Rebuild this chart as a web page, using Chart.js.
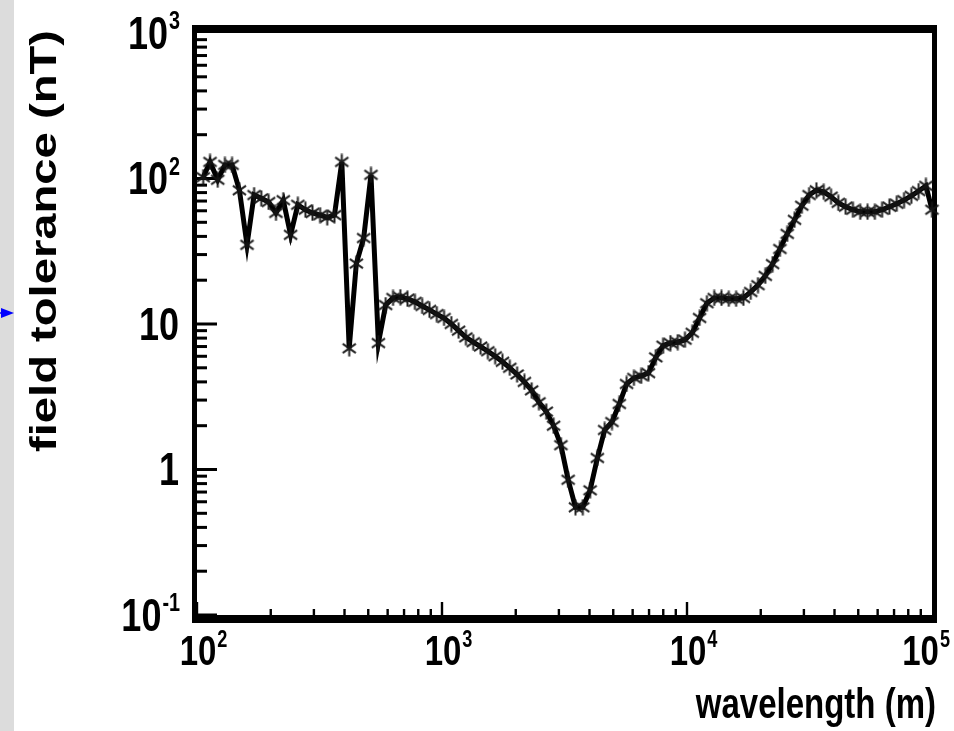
<!DOCTYPE html>
<html><head><meta charset="utf-8">
<script src="https://cdn.jsdelivr.net/npm/chart.js@4/dist/chart.umd.min.js"></script>
<style>html,body{margin:0;padding:0;background:#fff;overflow:hidden}</style>
</head><body>
<canvas id="c" width="954" height="731"></canvas>
<script>
// ---- data ----
const wavelengths = [106, 113, 121.5, 130, 139, 149, 160, 171, 183, 196, 210, 225, 241, 258, 277, 296, 318, 340, 364, 390,
  418, 447, 479, 513, 550, 589, 631, 676, 723, 775, 830, 889, 952, 1019, 1092, 1169, 1252, 1341, 1437, 1539,
  1648, 1765, 1891, 2025, 2169, 2323, 2488, 2665, 2854, 3057, 3273, 3506, 3755, 4022, 4307, 4613, 4941, 5292, 5668, 6070,
  6501, 6963, 7457, 7987, 8554, 9162, 9813, 10510, 11256, 12056, 12912, 13829, 14811, 15863, 16989, 18197, 19489, 20873, 22355, 23943,
  25645, 27466, 29416, 31505, 33742, 36141, 38707, 41455, 44400, 47554, 50933, 54549, 58423, 62573, 67017, 71779, 76877, 82338, 88186, 94451,
  100000];
const tolerance = [102, 130, 98, 124, 124, 83, 35, 77, 73, 69, 58, 71, 41, 66, 61, 58, 56, 54, 56, 130,
  6.8, 26, 39, 106, 7.4, 13.5, 15.1, 15.3, 14.9, 14.2, 13.3, 12.5, 11.7, 11.0, 10.0, 9.0, 8.1, 7.5, 7.0, 6.5,
  6.0, 5.5, 5.0, 4.5, 4.0, 3.5, 2.9, 2.5, 2.0, 1.47, 0.85, 0.55, 0.55, 0.72, 1.2, 1.87, 2.12, 2.82, 3.87, 4.26,
  4.4, 4.6, 5.9, 7.1, 7.4, 7.5, 7.8, 8.7, 11.0, 13.9, 15.1, 15.1, 14.9, 14.9, 15.1, 16.6, 18.5, 21.4, 25.8, 32.8,
  41.6, 52, 65, 77, 83, 81, 75, 68, 64, 61, 59, 59, 59, 61, 64, 67, 71, 76, 82, 89,
  61];
const xTickValues = [100, 1000, 10000, 100000];
const xTickBase = ['10', '10', '10', '10'];
const xTickExp = ['2', '3', '4', '5'];
const yTickValues = [0.1, 1, 10, 100, 1000];
const yTickBase = ['10', '1', '10', '10', '10'];
const yTickExp = ['-1', '', '', '2', '3'];
const xTitle = 'wavelength (m)';
const yTitle = 'field tolerance (nT)';

// ---- styling helpers ----
const FONT = '"Liberation Sans", Arial, Helvetica, sans-serif';
const SY = 1.3;

function makeAsterisk(size, color, lw) {
  const c = document.createElement('canvas');
  c.width = c.height = size;
  const g = c.getContext('2d');
  g.strokeStyle = color; g.lineWidth = lw; g.lineCap = 'butt';
  const cx = size / 2, r = size / 2 - 0.5;
  g.beginPath();
  for (const a of [90, 35, 145]) {
    const t = a * Math.PI / 180;
    g.moveTo(cx - r * Math.cos(t), cx - r * Math.sin(t));
    g.lineTo(cx + r * Math.cos(t), cx + r * Math.sin(t));
  }
  g.stroke();
  return c;
}
const star = makeAsterisk(17, 'rgba(20,20,20,0.95)', 2);

function drawPow(ctx, base, exp, x, y, mode, size, maxRight) {
  ctx.save();
  ctx.fillStyle = '#000';
  ctx.font = `bold ${size}px ${FONT}`;
  const bw = ctx.measureText(base).width;
  const es = size * 0.55;
  ctx.font = `bold ${es}px ${FONT}`;
  const ew = exp ? ctx.measureText(exp).width : 0;
  let x0;
  if (mode === 'center') x0 = x - bw / 2; else x0 = x - bw - ew - 1;
  if (maxRight !== undefined && x0 + bw + ew + 1 > maxRight) x0 = maxRight - bw - ew - 1;
  ctx.translate(0, y);
  ctx.scale(1, SY);
  ctx.textBaseline = 'middle';
  ctx.textAlign = 'left';
  ctx.font = `bold ${size}px ${FONT}`;
  ctx.fillText(base, x0, 0);
  if (exp) {
    ctx.font = `bold ${es}px ${FONT}`;
    ctx.textBaseline = 'alphabetic';
    ctx.fillText(exp, x0 + bw + 1, -size * 0.14);
  }
  ctx.restore();
}

const decor = {
  id: 'decor',
  beforeDraw(chart) {
    const ctx = chart.ctx;
    ctx.save();
    ctx.fillStyle = '#fff';
    ctx.fillRect(0, 0, chart.width, chart.height);
    ctx.fillStyle = '#dcdcdc';
    ctx.fillRect(0, 0, 14, chart.height);
    // blue arrow
    ctx.strokeStyle = '#0000ff'; ctx.lineWidth = 1.5;
    ctx.beginPath(); ctx.moveTo(0, 313); ctx.lineTo(6, 313); ctx.stroke();
    ctx.fillStyle = '#0000ff';
    ctx.beginPath(); ctx.moveTo(1, 308); ctx.lineTo(14, 313); ctx.lineTo(1, 318); ctx.closePath(); ctx.fill();
    ctx.restore();
  },
  beforeDatasetsDraw(chart) {
    const ctx = chart.ctx, a = chart.chartArea;
    const xs = chart.scales.x, ys = chart.scales.y;
    ctx.save();
    ctx.fillStyle = '#000';
    // frame
    ctx.fillRect(a.left - 5, a.top - 8, a.right - a.left + 10, 8);
    ctx.fillRect(a.left - 5, a.bottom, a.right - a.left + 10, 8);
    ctx.fillRect(a.left - 5, a.top - 8, 5, a.bottom - a.top + 16);
    ctx.fillRect(a.right, a.top - 8, 5, a.bottom - a.top + 16);
    // y ticks (inside, pointing right)
    for (let d = -1; d <= 2; d++) {
      for (let m = 1; m <= 9; m++) {
        const v = m * Math.pow(10, d);
        const py = ys.getPixelForValue(v);
        const len = m === 1 ? 20 : 10;
        ctx.fillRect(a.left, py - 1.5, len, 3);
      }
    }
    // x ticks (inside, pointing up)
    for (let d = 2; d <= 4; d++) {
      for (let m = 1; m <= 9; m++) {
        const v = m * Math.pow(10, d);
        const px = xs.getPixelForValue(v);
        const len = m === 1 ? 13 : 6;
        ctx.fillRect(px - 1.2, a.bottom - len, 2.4, len);
      }
    }
    ctx.restore();
  },
  afterDraw(chart) {
    const ctx = chart.ctx, a = chart.chartArea;
    const xs = chart.scales.x, ys = chart.scales.y;
    xTickValues.forEach((v, i) => {
      drawPow(ctx, xTickBase[i], xTickExp[i], xs.getPixelForValue(v) + 1, a.bottom + 38, 'center', 33, 950);
    });
    yTickValues.forEach((v, i) => {
      drawPow(ctx, yTickBase[i], yTickExp[i], 180, ys.getPixelForValue(v) + 3, 'right', 36);
    });
    // x title
    ctx.save();
    ctx.fillStyle = '#000';
    ctx.font = `bold 33px ${FONT}`;
    ctx.textAlign = 'right';
    ctx.textBaseline = 'alphabetic';
    ctx.translate(936, 718);
    ctx.scale(1, SY);
    ctx.fillText(xTitle, 0, 0);
    ctx.restore();
    // y title
    ctx.save();
    ctx.fillStyle = '#000';
    ctx.font = `bold 36px ${FONT}`;
    const w = ctx.measureText(yTitle).width;
    ctx.translate(56, 241);
    ctx.rotate(-Math.PI / 2);
    ctx.scale(422 / w, 1);
    ctx.textAlign = 'center';
    ctx.textBaseline = 'alphabetic';
    ctx.fillText(yTitle, 0, 0);
    ctx.restore();
  }
};

new Chart(document.getElementById('c'), {
  type: 'line',
  data: {
    datasets: [{
      data: wavelengths.map((w, i) => ({ x: w, y: tolerance[i] })),
      borderColor: '#000',
      borderWidth: 5,
      tension: 0,
      pointStyle: star,
      pointRadius: 8,
      pointHoverRadius: 8,
      clip: false,
      fill: false
    }]
  },
  options: {
    responsive: false,
    devicePixelRatio: 1,
    animation: false,
    events: [],
    layout: { padding: { left: 197, top: 33, right: 22, bottom: 116 } },
    plugins: { legend: { display: false }, tooltip: { enabled: false } },
    scales: {
      x: {
        type: 'logarithmic', min: 100, max: 100000,
        ticks: { display: false }, grid: { display: false }, border: { display: false },
        afterFit(s) { s.height = 0; }
      },
      y: {
        type: 'logarithmic', min: 0.1, max: 1000,
        ticks: { display: false }, grid: { display: false }, border: { display: false },
        afterFit(s) { s.width = 0; }
      }
    }
  },
  plugins: [decor]
});
</script>
</body></html>
